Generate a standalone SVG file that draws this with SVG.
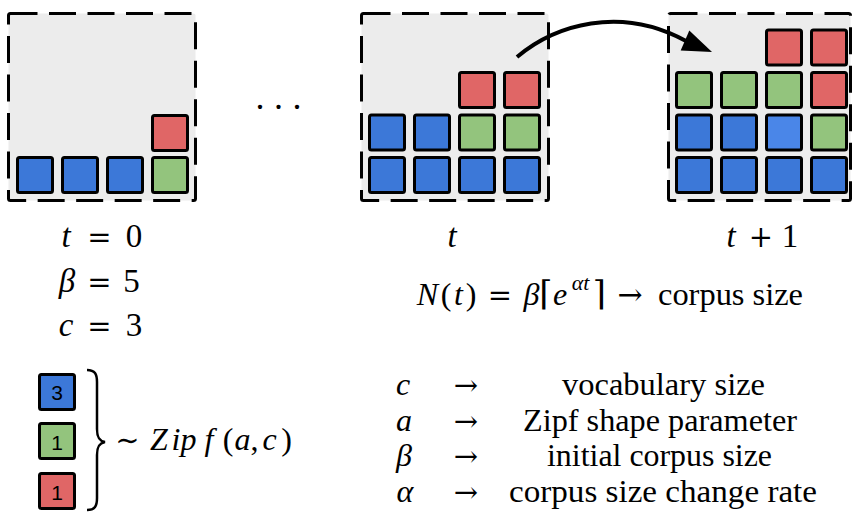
<svg xmlns="http://www.w3.org/2000/svg" width="857" height="512" viewBox="0 0 857 512">
<style>
.panel{fill:#ececec;stroke:#000;stroke-width:3;stroke-dasharray:27 11.5}
.sq{stroke:#000;stroke-width:3}
.b{fill:#3c78d8}
.lb{fill:#4a86e8}
.g{fill:#93c47d}
.r{fill:#e06666}
.t{font-family:'Liberation Serif','Times New Roman',serif;fill:#000}
.m{font-size:33px}
.l{font-size:32px}
.i{font-style:italic}
.op{font-family:'DejaVu Serif','Liberation Serif',serif;font-size:29px}
.ar{font-family:'DejaVu Serif','Liberation Serif',serif;font-size:30px}
.num{font-family:'Liberation Sans',Arial,sans-serif;font-size:21px;fill:#000;text-anchor:middle}
.c{text-anchor:middle}
</style>

<g id="panel-t0">
<rect class="panel" x="8.5" y="13.5" width="187" height="187" rx="2"/>
<rect class="sq b" x="17.5" y="157.5" width="35" height="35" rx="2"/>
<rect class="sq b" x="62.5" y="157.5" width="35" height="35" rx="2"/>
<rect class="sq b" x="107.5" y="157.5" width="35" height="35" rx="2"/>
<rect class="sq g" x="152.5" y="157.5" width="35" height="35" rx="2"/>
<rect class="sq r" x="152.5" y="115.5" width="35" height="35" rx="2"/>
</g>

<g id="panel-t">
<rect class="panel" x="361.5" y="13.5" width="187" height="187" rx="2"/>
<rect class="sq b" x="369.5" y="157.5" width="35" height="35" rx="2"/>
<rect class="sq b" x="414.5" y="157.5" width="35" height="35" rx="2"/>
<rect class="sq b" x="459.5" y="157.5" width="35" height="35" rx="2"/>
<rect class="sq b" x="504.5" y="157.5" width="35" height="35" rx="2"/>
<rect class="sq b" x="369.5" y="115" width="35" height="35" rx="2"/>
<rect class="sq b" x="414.5" y="115" width="35" height="35" rx="2"/>
<rect class="sq g" x="459.5" y="115" width="35" height="35" rx="2"/>
<rect class="sq g" x="504.5" y="115" width="35" height="35" rx="2"/>
<rect class="sq r" x="459.5" y="72.5" width="35" height="35" rx="2"/>
<rect class="sq r" x="504.5" y="72.5" width="35" height="35" rx="2"/>
</g>

<g id="panel-t1">
<rect class="panel" x="668.5" y="13.5" width="182" height="187" rx="2"/>
<rect class="sq b" x="676.5" y="157.5" width="35" height="35" rx="2"/>
<rect class="sq b" x="721.5" y="157.5" width="35" height="35" rx="2"/>
<rect class="sq b" x="766.5" y="157.5" width="35" height="35" rx="2"/>
<rect class="sq b" x="811.5" y="157.5" width="35" height="35" rx="2"/>
<rect class="sq b" x="676.5" y="115" width="35" height="35" rx="2"/>
<rect class="sq b" x="721.5" y="115" width="35" height="35" rx="2"/>
<rect class="sq lb" x="766.5" y="115" width="35" height="35" rx="2"/>
<rect class="sq g" x="811.5" y="115" width="35" height="35" rx="2"/>
<rect class="sq g" x="676.5" y="72.5" width="35" height="35" rx="2"/>
<rect class="sq g" x="721.5" y="72.5" width="35" height="35" rx="2"/>
<rect class="sq g" x="766.5" y="72.5" width="35" height="35" rx="2"/>
<rect class="sq r" x="811.5" y="72.5" width="35" height="35" rx="2"/>
<rect class="sq r" x="766.5" y="30" width="35" height="35" rx="2"/>
<rect class="sq r" x="811.5" y="30" width="35" height="35" rx="2"/>
</g>

<g id="connectors">
<path d="M517,57 C555,25 620,5 686,41" fill="none" stroke="#000" stroke-width="4"/>
<polygon points="712,52 689.3,30.4 680.7,50.6" fill="#000"/>
</g>

<g id="ellipsis">
<text class="t m c" x="260 278.5 297" y="109" style="font-size:36px">...</text>
</g>

<g id="labels-t0">
<text class="t m c" y="247"><tspan x="66" class="i">t</tspan><tspan x="99.5" class="op">=</tspan><tspan x="134">0</tspan></text>
<text class="t m c" y="292"><tspan x="67" class="i">β</tspan><tspan x="99.5" class="op">=</tspan><tspan x="131.5">5</tspan></text>
<text class="t m c" y="336"><tspan x="66" class="i">c</tspan><tspan x="99.5" class="op">=</tspan><tspan x="134">3</tspan></text>
</g>

<g id="label-t">
<text class="t m c i" x="452" y="247">t</text>
</g>

<g id="label-t1">
<text class="t m c" y="247"><tspan x="731" class="i">t</tspan><tspan x="761" class="op">+</tspan><tspan x="790">1</tspan></text>
</g>

<g id="equation">
<text class="t l c" y="305"><tspan x="427.5" class="i">N</tspan><tspan x="446">(</tspan><tspan x="458.5" class="i">t</tspan><tspan x="471">)</tspan><tspan x="500" class="op">=</tspan><tspan x="531.5" class="i">β</tspan><tspan x="546" class="op" style="font-size:34px">⌈</tspan><tspan x="560" class="i">e</tspan><tspan x="599.5" class="op" style="font-size:34px">⌉</tspan><tspan x="630" class="ar">→</tspan></text>
<text class="t i c" x="580.5" y="290" style="font-size:22px">αt</text>
<text class="t l" x="658" y="305" textLength="145" lengthAdjust="spacingAndGlyphs">corpus size</text>
</g>

<g id="legend-blocks">
<rect class="sq b" x="39.5" y="374.5" width="35" height="35" rx="2"/>
<text class="num" x="57" y="400">3</text>
<rect class="sq g" x="39.5" y="423.5" width="35" height="35" rx="2"/>
<text class="num" x="57" y="450">1</text>
<rect class="sq r" x="39.5" y="473.5" width="35" height="35" rx="2"/>
<text class="num" x="57" y="500">1</text>
<path d="M87,370 C95,370 97,374 97,382 L97,429 C97,437 99,441 105,442 C99,443 97,447 97,455 L97,498 C97,506 95,510 87,510" fill="none" stroke="#000" stroke-width="2.5"/>
</g>

<g id="zipf-label">
<text class="t l c" y="450"><tspan x="127.5" class="op">∼</tspan><tspan x="159" class="i">Z</tspan><tspan x="176" class="i">i</tspan><tspan x="188.5" class="i">p</tspan><tspan x="209" class="i">f</tspan><tspan x="228">(</tspan><tspan x="242.5" class="i">a</tspan><tspan x="254.5">,</tspan><tspan x="269.5" class="i">c</tspan><tspan x="286.5">)</tspan></text>
</g>

<g id="legend-params">
<text class="t l c" y="395"><tspan x="403" class="i">c</tspan><tspan x="466" class="op">→</tspan></text>
<text class="t l" x="562" y="395" textLength="203" lengthAdjust="spacingAndGlyphs">vocabulary size</text>
<text class="t l c" y="431"><tspan x="404" class="i">a</tspan><tspan x="466" class="op">→</tspan></text>
<text class="t l" x="523" y="431" textLength="274" lengthAdjust="spacingAndGlyphs">Zipf shape parameter</text>
<text class="t l c" y="466"><tspan x="404" class="i">β</tspan><tspan x="466" class="op">→</tspan></text>
<text class="t l" x="547" y="466" textLength="225" lengthAdjust="spacingAndGlyphs">initial corpus size</text>
<text class="t l c" y="502"><tspan x="405" class="i">α</tspan><tspan x="466" class="op">→</tspan></text>
<text class="t l" x="509" y="502" textLength="308" lengthAdjust="spacingAndGlyphs">corpus size change rate</text>
</g>
</svg>
